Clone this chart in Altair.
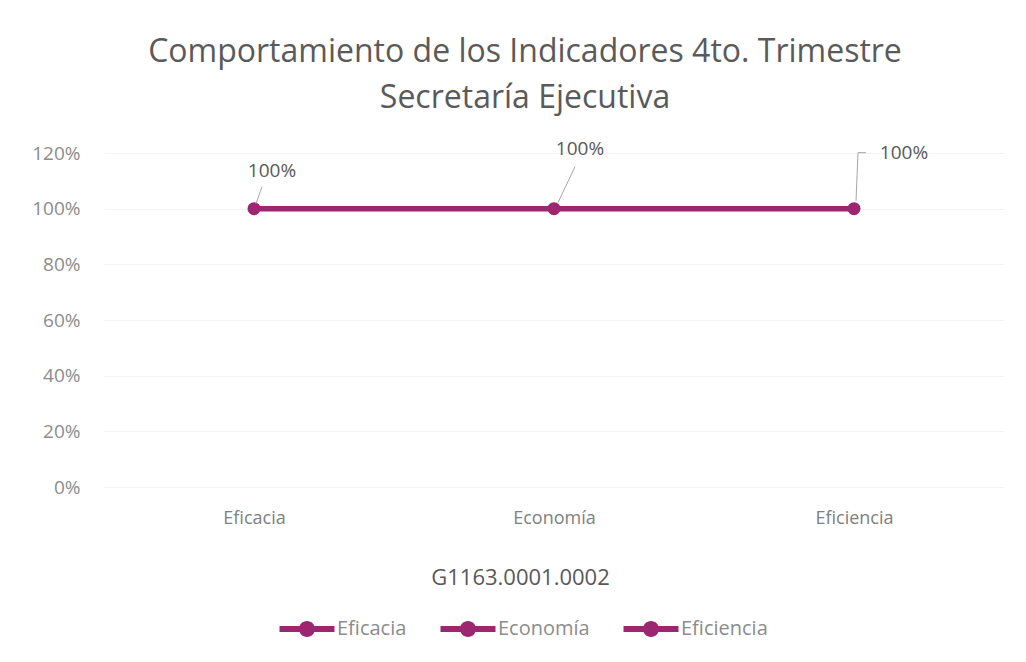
import altair as alt
import pandas as pd

categories = ["Eficacia", "Economía", "Eficiencia"]
values = [1.0, 1.0, 1.0]
labels = ["100%", "100%", "100%"]
y_ticks = [0, 0.2, 0.4, 0.6, 0.8, 1.0, 1.2]

df = pd.DataFrame({"cat": categories, "val": values, "lab": labels})

LINE = "#9c2770"
FONT = "Open Sans"

x_enc = alt.X("cat:N", sort=categories,
              scale=alt.Scale(type="point", padding=0.5),
              axis=alt.Axis(title="G1163.0001.0002", titleFont=FONT, titleFontSize=22,
                            titleFontWeight="normal", titleColor="#595959",
                            titlePadding=40, titleX=416,
                            labelFont=FONT, labelFontSize=18, labelColor="#808080",
                            labelPadding=22, domain=False, ticks=False, grid=False,
                            labelAngle=0))
y_enc = alt.Y("val:Q", scale=alt.Scale(domain=[0, 1.2], nice=False),
              axis=alt.Axis(title=None, values=y_ticks, format=".0%",
                            labelFont=FONT, labelFontSize=19, labelColor="#8c8c8c",
                            labelPadding=24, domain=False, ticks=False,
                            gridColor="#f3f3f3", gridWidth=1))

base = alt.Chart(df)

line = base.mark_line(color=LINE, strokeWidth=5.5).encode(x=x_enc, y=y_enc)

legend_path = ("M-2.75,-0.3 L2.75,-0.3 L2.75,0.3 L-2.75,0.3 Z "
               "M0.8,0 A0.8,0.8 0 1,1 -0.8,0 A0.8,0.8 0 1,1 0.8,0 Z")

pts = base.mark_point(filled=True, size=170, opacity=1).encode(
    x=alt.X("cat:N", sort=categories),
    y="val:Q",
    color=alt.Color("cat:N", sort=categories,
                    scale=alt.Scale(domain=categories, range=[LINE, LINE, LINE]),
                    legend=alt.Legend(title=None, orient="none", direction="horizontal",
                                      legendX=193, legendY=466,
                                      symbolType=legend_path, symbolSize=400,
                                      symbolStrokeWidth=0, labelOffset=20,
                                      columnPadding=33, labelFont=FONT,
                                      labelFontSize=20, labelColor="#8c8c8c")),
)

offsets = {"Eficacia": (18, -38), "Economía": (26, -60), "Eficiencia": (50, -56)}
leaders = {
    "Eficacia": [(2, -5, 8, -22)],
    "Economía": [(4, -6, 21, -42)],
    "Eficiencia": [(2, -8, 4, -56), (4, -56, 12, -56)],
}

layers = [line, pts]
for c in categories:
    dx, dy = offsets[c]
    layers.append(
        base.transform_filter(alt.datum.cat == c).mark_text(
            font=FONT, fontSize=19, color="#595959", dx=dx, dy=dy
        ).encode(x=alt.X("cat:N", sort=categories), y="val:Q", text="lab:N")
    )
    for (x1, y1, x2, y2) in leaders[c]:
        layers.append(
            base.transform_filter(alt.datum.cat == c).mark_rule(
                color="#a6a6a6", strokeWidth=1,
                xOffset=x1, yOffset=y1, x2Offset=x2, y2Offset=y2
            ).encode(x=alt.X("cat:N", sort=categories), y="val:Q",
                     x2=alt.X2("cat:N"), y2=alt.Y2("val:Q"))
        )

chart = alt.layer(*layers).properties(
    width=900, height=334,
    autosize=alt.AutoSizeParams(type="none"),
    padding={"left": 96, "top": 145, "right": 14, "bottom": 170},
    title=alt.TitleParams(
        text=["Comportamiento de los Indicadores 4to. Trimestre", "Secretaría Ejecutiva"],
        font=FONT, fontSize=32, fontWeight="normal", color="#5a5a5a",
        lineHeight=46, anchor="middle", dx=-29, offset=25,
    ),
).configure(background="white", view=alt.ViewConfig(stroke=None))

chart.save("out.html", embed_options={"renderer": "svg", "actions": False})
